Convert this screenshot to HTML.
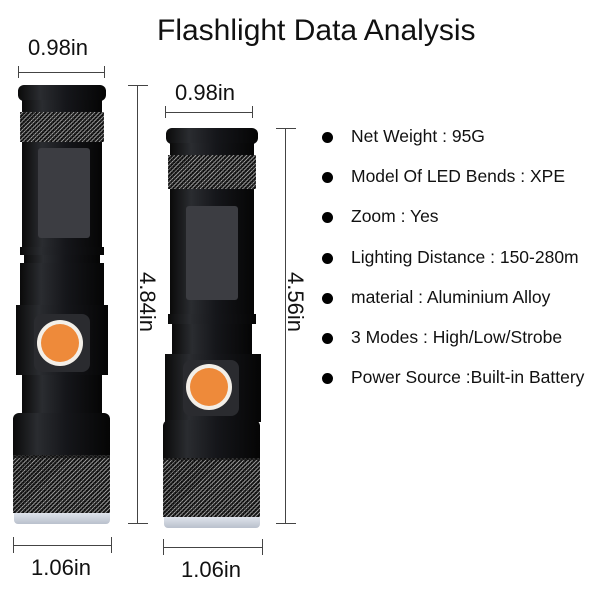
<!DOCTYPE html>
<html><head><style>
*{margin:0;padding:0;box-sizing:border-box}
body{width:600px;height:600px;background:#fff;position:relative;overflow:hidden;font-family:"Liberation Sans",Arial,sans-serif;color:#111}
.a{position:absolute}
.t{position:absolute;white-space:nowrap}
.blk{position:absolute;background:linear-gradient(90deg,#0a0a0a 0%,#2a2c30 25%,#15161a 55%,#050505 100%)}
.knurl2{position:absolute;background:repeating-linear-gradient(45deg,rgba(70,70,70,.55) 0 1px,transparent 1px 3px),repeating-linear-gradient(-45deg,rgba(70,70,70,.55) 0 1px,#0e0e0e 1px 3px)}
.line{position:absolute;background:#444}
.dot{position:absolute;width:11px;height:11px;border-radius:50%;background:#000}
.b{position:absolute;left:351px;font-size:17.5px;white-space:nowrap}
.d{font-size:22px}
</style></head><body>
<div class="t" style="left:157px;top:14px;font-size:30px">Flashlight Data Analysis</div>

<!-- left dims -->
<div class="t d" style="left:28px;top:35px">0.98in</div>
<div class="line" style="left:18px;top:72px;width:86px;height:1px"></div>
<div class="line" style="left:18px;top:66px;width:1px;height:12px"></div>
<div class="line" style="left:104px;top:66px;width:1px;height:12px"></div>
<div class="line" style="left:128px;top:85px;width:20px;height:1px"></div>
<div class="line" style="left:137px;top:85px;width:1px;height:438px"></div>
<div class="line" style="left:128px;top:523px;width:20px;height:1px"></div>
<div class="t d" style="left:117px;top:289px;transform:rotate(90deg);transform-origin:center">4.84in</div>
<div class="line" style="left:13px;top:545px;width:98px;height:1px"></div>
<div class="line" style="left:13px;top:537px;width:1px;height:16px"></div>
<div class="line" style="left:111px;top:537px;width:1px;height:16px"></div>
<div class="t d" style="left:31px;top:555px">1.06in</div>

<!-- right dims -->
<div class="t d" style="left:175px;top:80px">0.98in</div>
<div class="line" style="left:165px;top:112px;width:87px;height:1px"></div>
<div class="line" style="left:165px;top:106px;width:1px;height:12px"></div>
<div class="line" style="left:252px;top:106px;width:1px;height:12px"></div>
<div class="line" style="left:276px;top:128px;width:20px;height:1px"></div>
<div class="line" style="left:285px;top:128px;width:1px;height:395px"></div>
<div class="line" style="left:276px;top:523px;width:20px;height:1px"></div>
<div class="t d" style="left:265px;top:289px;transform:rotate(90deg);transform-origin:center">4.56in</div>
<div class="line" style="left:163px;top:547px;width:99px;height:1px"></div>
<div class="line" style="left:163px;top:539px;width:1px;height:16px"></div>
<div class="line" style="left:262px;top:539px;width:1px;height:16px"></div>
<div class="t d" style="left:181px;top:557px">1.06in</div>

<!-- left flashlight -->
<div class="blk" style="left:18px;top:85px;width:88px;height:16px;border-radius:6px"></div>
<div class="blk" style="left:22px;top:100px;width:80px;height:12px"></div>
<div class="knurl2" style="left:20px;top:112px;width:84px;height:30px"></div>
<div class="blk" style="left:22px;top:142px;width:80px;height:105px"></div>
<div class="a" style="left:38px;top:148px;width:52px;height:90px;background:#3c3d42;border-radius:3px"></div>
<div class="blk" style="left:20px;top:247px;width:84px;height:8px"></div>
<div class="blk" style="left:24px;top:255px;width:76px;height:8px"></div>
<div class="blk" style="left:16px;top:305px;width:92px;height:70px"></div>
<div class="blk" style="left:20px;top:263px;width:84px;height:42px"></div>
<div class="a" style="left:34px;top:314px;width:56px;height:58px;background:#2a2b2f;border-radius:8px"></div>
<div class="a" style="left:37px;top:320px;width:46px;height:46px;border-radius:50%;background:#f3efe8"></div>
<div class="a" style="left:41px;top:324px;width:38px;height:38px;border-radius:50%;background:#ee8a3a"></div>
<div class="blk" style="left:22px;top:375px;width:80px;height:40px"></div>
<div class="blk" style="left:13px;top:413px;width:97px;height:45px;border-radius:6px 6px 0 0"></div>
<div class="knurl2" style="left:13px;top:455px;width:97px;height:58px"></div>
<div class="a" style="left:14px;top:513px;width:96px;height:11px;background:linear-gradient(#dfe4ec,#b9c0cc);border-radius:0 0 4px 4px"></div>

<!-- right flashlight -->
<div class="blk" style="left:166px;top:128px;width:92px;height:16px;border-radius:6px"></div>
<div class="blk" style="left:170px;top:143px;width:84px;height:12px"></div>
<div class="knurl2" style="left:168px;top:155px;width:88px;height:34px"></div>
<div class="blk" style="left:170px;top:189px;width:84px;height:125px"></div>
<div class="a" style="left:186px;top:206px;width:52px;height:94px;background:#3c3d42;border-radius:3px"></div>
<div class="blk" style="left:168px;top:314px;width:88px;height:10px"></div>
<div class="blk" style="left:172px;top:324px;width:80px;height:30px"></div>
<div class="blk" style="left:165px;top:354px;width:96px;height:68px"></div>
<div class="a" style="left:183px;top:360px;width:56px;height:56px;background:#2a2b2f;border-radius:8px"></div>
<div class="a" style="left:186px;top:364px;width:46px;height:46px;border-radius:50%;background:#f3efe8"></div>
<div class="a" style="left:190px;top:368px;width:38px;height:38px;border-radius:50%;background:#ee8a3a"></div>
<div class="blk" style="left:163px;top:420px;width:97px;height:40px;border-radius:6px 6px 0 0"></div>
<div class="knurl2" style="left:163px;top:458px;width:97px;height:59px"></div>
<div class="a" style="left:164px;top:517px;width:96px;height:11px;background:linear-gradient(#dfe4ec,#b9c0cc);border-radius:0 0 4px 4px"></div>

<!-- bullets -->
<div class="dot" style="left:322px;top:132px"></div><div class="b" style="top:126px">Net Weight : 95G</div>
<div class="dot" style="left:322px;top:172px"></div><div class="b" style="top:166px">Model Of LED Bends : XPE</div>
<div class="dot" style="left:322px;top:212px"></div><div class="b" style="top:206px">Zoom : Yes</div>
<div class="dot" style="left:322px;top:253px"></div><div class="b" style="top:247px">Lighting Distance : 150-280m</div>
<div class="dot" style="left:322px;top:293px"></div><div class="b" style="top:287px">material : Aluminium Alloy</div>
<div class="dot" style="left:322px;top:333px"></div><div class="b" style="top:327px">3 Modes : High/Low/Strobe</div>
<div class="dot" style="left:322px;top:373px"></div><div class="b" style="top:367px">Power Source :Built-in Battery</div>
</body></html>
